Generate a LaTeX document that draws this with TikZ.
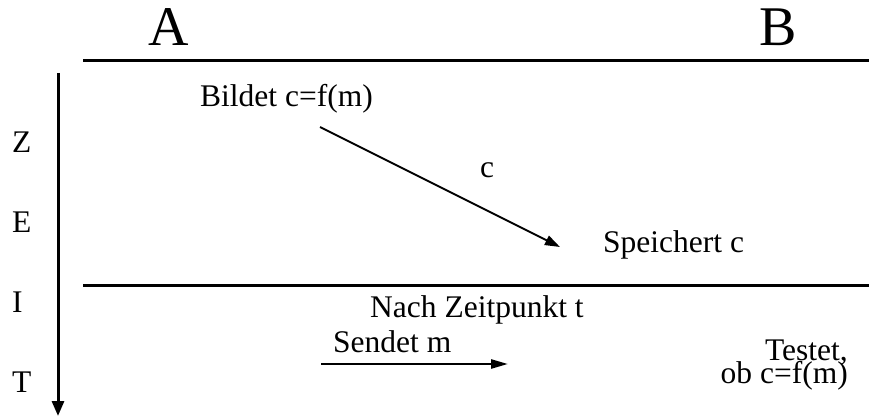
\documentclass[tikz,border=0pt]{standalone}
\usepackage{fontspec}
\setmainfont{Liberation Serif}
\usepackage{tikz}
\usetikzlibrary{arrows.meta}

\begin{document}
\begin{tikzpicture}[
  x=1pt, y=-1pt,
  party/.style={font=\fontsize{56}{60}\selectfont, inner sep=0pt, anchor=base},
  lbl/.style={font=\fontsize{31.5}{24}\selectfont, inner sep=0pt, anchor=base west},
  rule/.style={line width=3pt},
  arr/.style={-{Triangle[length=15pt, width=10pt]}, line width=2pt},
]
  \useasboundingbox (0,0) rectangle (871,417);

  % the two parties and the phase separators
  \node[party] (A) at (169,46) {A};
  \node[party] (B) at (778,46) {B};
  \coordinate (sepTopL) at (83,61);
  \coordinate (sepTopR) at (869,61);
  \coordinate (sepMidL) at (83,285);
  \coordinate (sepMidR) at (869,285);
  \draw[rule] (sepTopL) -- (sepTopR);
  \draw[rule] (sepMidL) -- (sepMidR);

  % time axis
  \foreach \ch/\y in {Z/153, E/233, I/312, T/392}
    \node[lbl] (time\ch) at (12,\y) {\ch};
  \coordinate (timeTop) at (58,73);
  \coordinate (timeEnd) at (58,416);
  \draw[-{Triangle[length=15pt, width=12pt]}, line width=3pt] (timeTop) -- (timeEnd);

  % commit phase
  \node[lbl] (bildet) at (200,107) {Bildet c=f(m)};
  \node[lbl] (speichert) at (603,252) {Speichert c};
  \coordinate (commitFrom) at (320,127);
  \coordinate (commitTo) at (560,247);
  \draw[arr] (commitFrom) -- (commitTo);
  \node[lbl] (cmsg) at (480,178) {c};

  % open phase
  \node[lbl] (nach) at (370,317) {Nach Zeitpunkt t};
  \node[lbl] (sendet) at (333,352) {Sendet m};
  \coordinate (openFrom) at (321,364);
  \coordinate (openTo) at (508,364);
  \draw[arr, -{Triangle[length=17pt, width=9pt]}, line width=2.5pt] (openFrom) -- (openTo);
  \node[lbl, anchor=base east, align=right] (testet) at (848,383) {Testet,\\[-6pt]ob c=f(m)};
\end{tikzpicture}
\end{document}
